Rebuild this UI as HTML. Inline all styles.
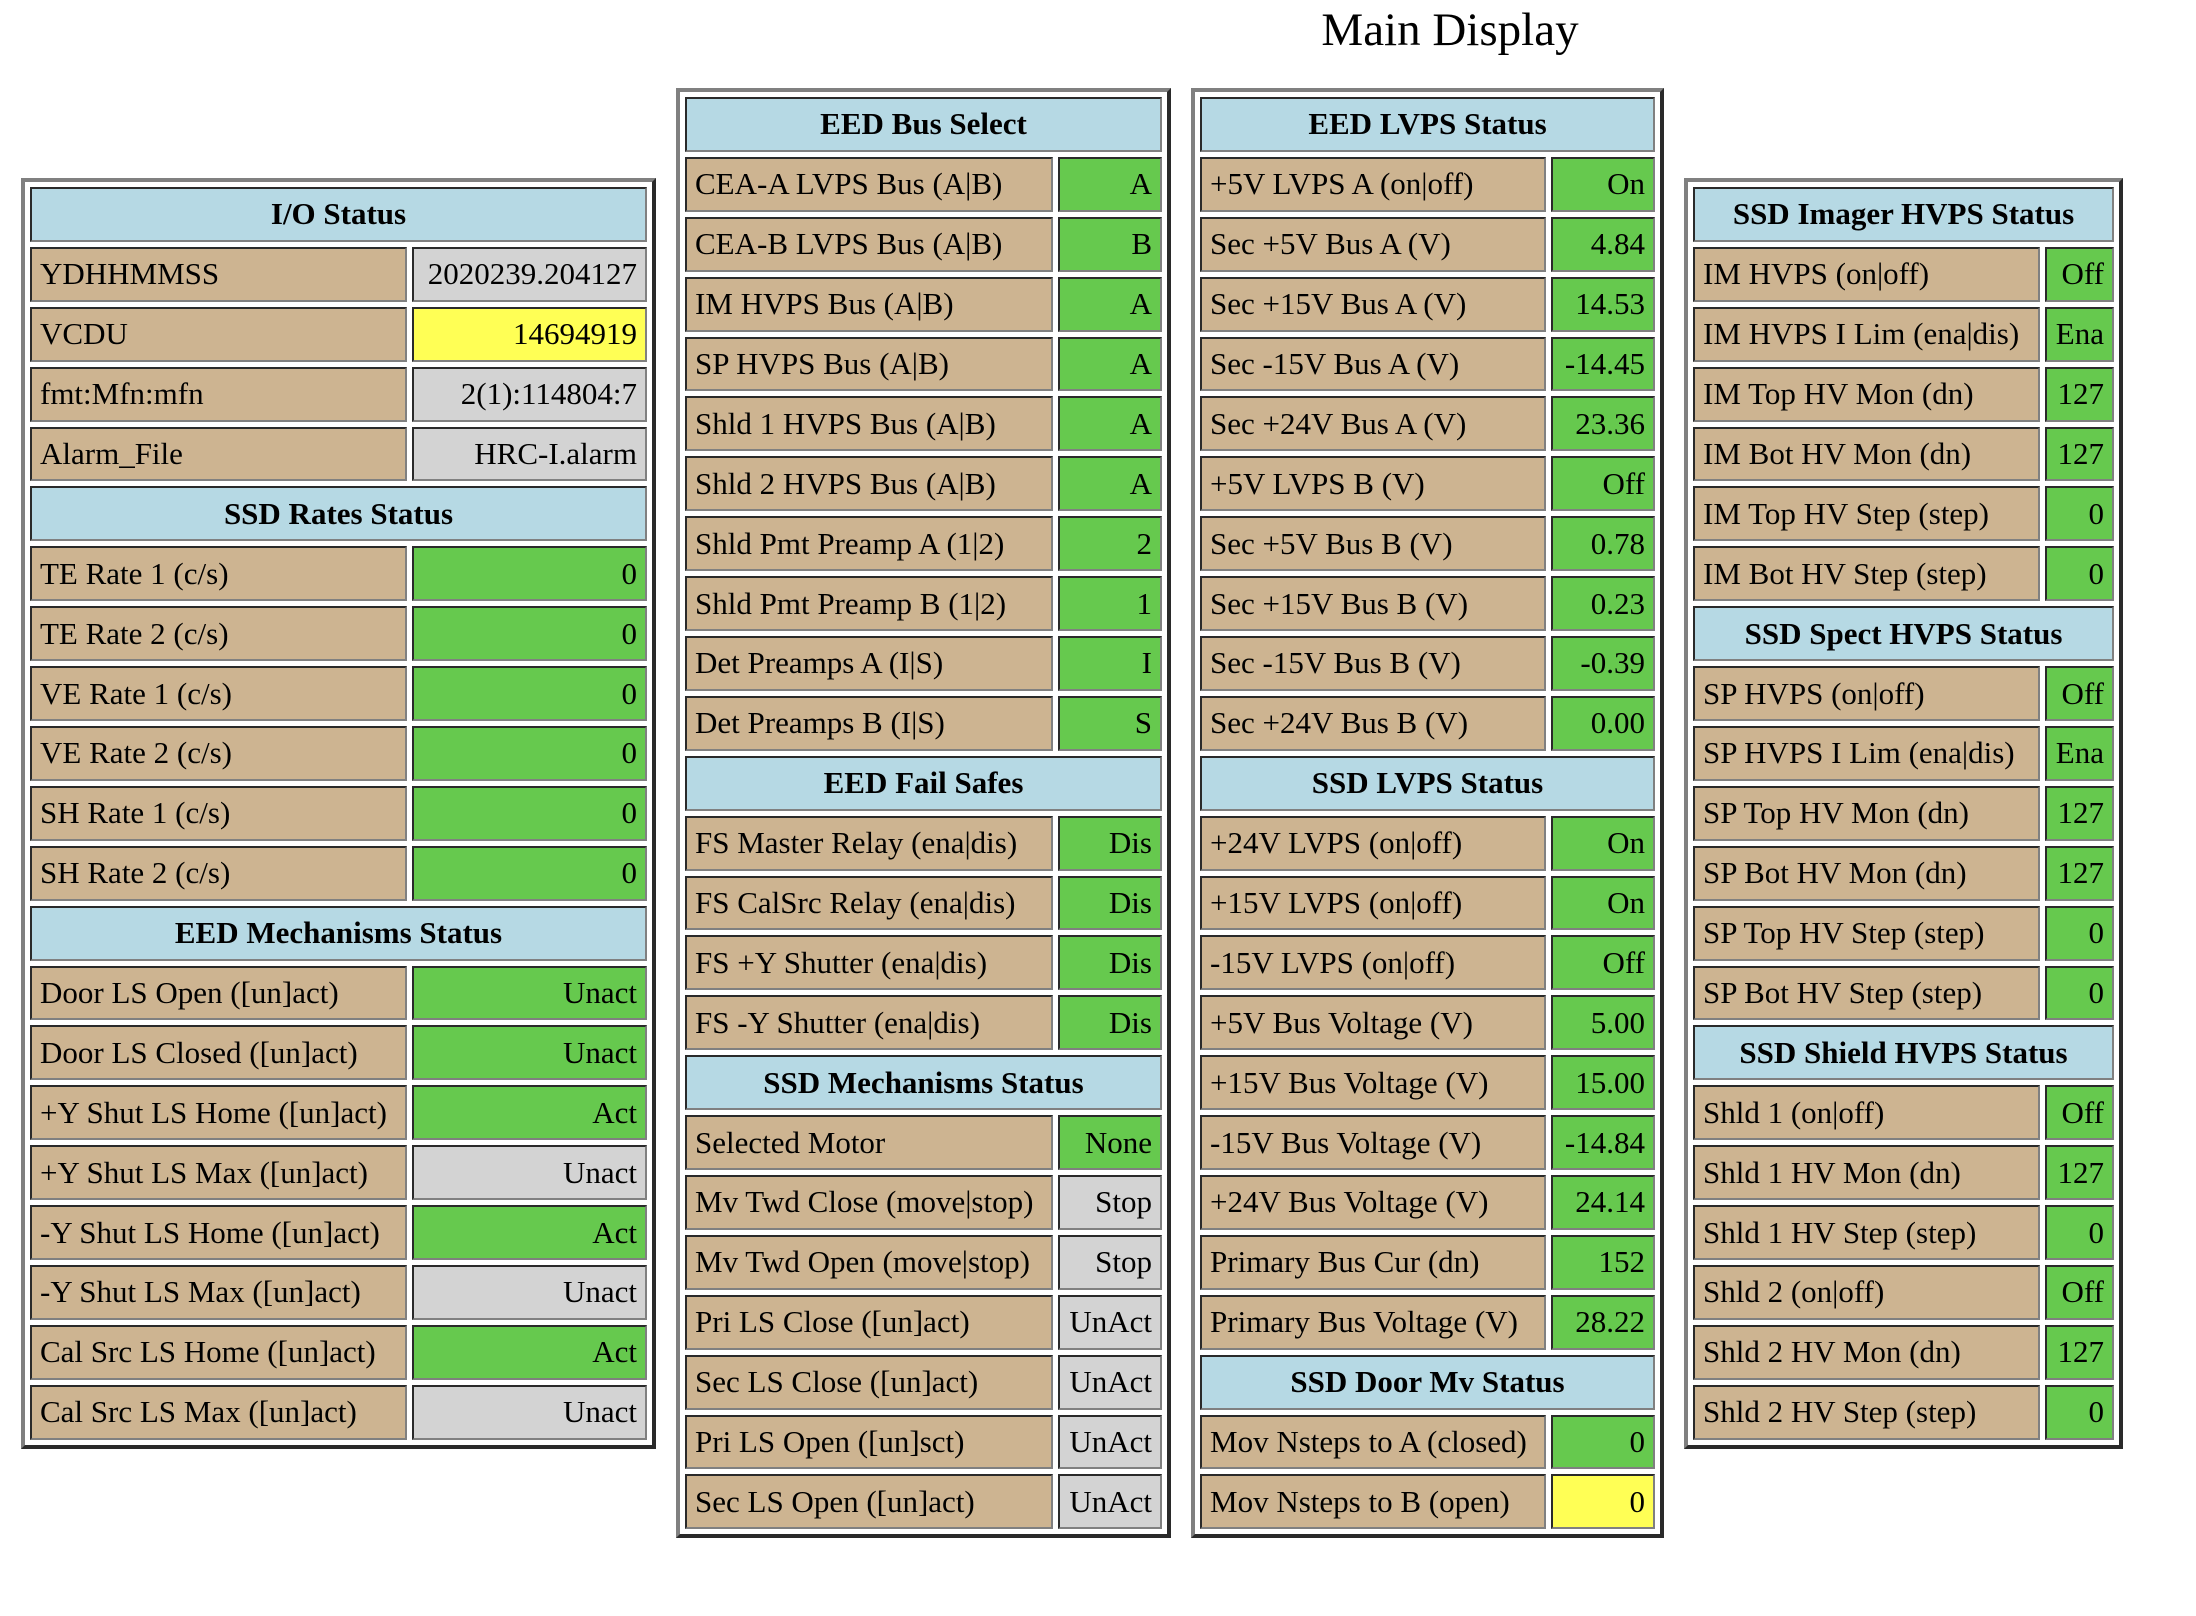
<!DOCTYPE html>
<html><head><meta charset="utf-8">
<style>
body{margin:0;width:2196px;height:1616px;background:#fff;position:relative;font-family:"Liberation Serif",serif;overflow:hidden}
#title{position:absolute;left:1250px;width:400px;top:0px;text-align:center;font-size:47px;line-height:60px}
table{position:absolute;border-collapse:separate;border-spacing:5px;table-layout:fixed;
 border:4px solid;border-color:#808080 #2a2a2a #2a2a2a #808080;}
td{box-sizing:border-box;height:54.9px;border:2px solid;border-color:#2a2a2a #808080 #808080 #2a2a2a;
 font-size:31px;padding:0 8px;white-space:nowrap;overflow:hidden;line-height:50px}
td.h{background:#b6d9e4;font-weight:bold;text-align:center}
td.l{background:#cdb491}
td.v{text-align:right}
.g{background:#66c94e}.y{background:#ffff55}.s{background:#d3d3d3}
</style></head><body>
<div id="title">Main Display</div>
<script>
const panel1=[["H","I/O Status"],["YDHHMMSS","2020239.204127","s"],["VCDU","14694919","y"],["fmt:Mfn:mfn","2(1):114804:7","s"],["Alarm_File","HRC-I.alarm","s"],
["H","SSD Rates Status"],["TE Rate 1 (c/s)","0","g"],["TE Rate 2 (c/s)","0","g"],["VE Rate 1 (c/s)","0","g"],["VE Rate 2 (c/s)","0","g"],["SH Rate 1 (c/s)","0","g"],["SH Rate 2 (c/s)","0","g"],
["H","EED Mechanisms Status"],["Door LS Open ([un]act)","Unact","g"],["Door LS Closed ([un]act)","Unact","g"],["+Y Shut LS Home ([un]act)","Act","g"],["+Y Shut LS Max ([un]act)","Unact","s"],["-Y Shut LS Home ([un]act)","Act","g"],["-Y Shut LS Max ([un]act)","Unact","s"],["Cal Src LS Home ([un]act)","Act","g"],["Cal Src LS Max ([un]act)","Unact","s"]];
const panel2=[["H","EED Bus Select"],["CEA-A LVPS Bus (A|B)","A","g"],["CEA-B LVPS Bus (A|B)","B","g"],["IM HVPS Bus (A|B)","A","g"],["SP HVPS Bus (A|B)","A","g"],["Shld 1 HVPS Bus (A|B)","A","g"],["Shld 2 HVPS Bus (A|B)","A","g"],["Shld Pmt Preamp A (1|2)","2","g"],["Shld Pmt Preamp B (1|2)","1","g"],["Det Preamps A (I|S)","I","g"],["Det Preamps B (I|S)","S","g"],
["H","EED Fail Safes"],["FS Master Relay (ena|dis)","Dis","g"],["FS CalSrc Relay (ena|dis)","Dis","g"],["FS +Y Shutter (ena|dis)","Dis","g"],["FS -Y Shutter (ena|dis)","Dis","g"],
["H","SSD Mechanisms Status"],["Selected Motor","None","g"],["Mv Twd Close (move|stop)","Stop","s"],["Mv Twd Open (move|stop)","Stop","s"],["Pri LS Close ([un]act)","UnAct","s"],["Sec LS Close ([un]act)","UnAct","s"],["Pri LS Open ([un]sct)","UnAct","s"],["Sec LS Open ([un]act)","UnAct","s"]];
const panel3=[["H","EED LVPS Status"],["+5V LVPS A (on|off)","On","g"],["Sec +5V Bus A (V)","4.84","g"],["Sec +15V Bus A (V)","14.53","g"],["Sec -15V Bus A (V)","-14.45","g"],["Sec +24V Bus A (V)","23.36","g"],["+5V LVPS B (V)","Off","g"],["Sec +5V Bus B (V)","0.78","g"],["Sec +15V Bus B (V)","0.23","g"],["Sec -15V Bus B (V)","-0.39","g"],["Sec +24V Bus B (V)","0.00","g"],
["H","SSD LVPS Status"],["+24V LVPS (on|off)","On","g"],["+15V LVPS (on|off)","On","g"],["-15V LVPS (on|off)","Off","g"],["+5V Bus Voltage (V)","5.00","g"],["+15V Bus Voltage (V)","15.00","g"],["-15V Bus Voltage (V)","-14.84","g"],["+24V Bus Voltage (V)","24.14","g"],["Primary Bus Cur (dn)","152","g"],["Primary Bus Voltage (V)","28.22","g"],
["H","SSD Door Mv Status"],["Mov Nsteps to A (closed)","0","g"],["Mov Nsteps to B (open)","0","y"]];
const panel4=[["H","SSD Imager HVPS Status"],["IM HVPS (on|off)","Off","g"],["IM HVPS I Lim (ena|dis)","Ena","g"],["IM Top HV Mon (dn)","127","g"],["IM Bot HV Mon (dn)","127","g"],["IM Top HV Step (step)","0","g"],["IM Bot HV Step (step)","0","g"],
["H","SSD Spect HVPS Status"],["SP HVPS (on|off)","Off","g"],["SP HVPS I Lim (ena|dis)","Ena","g"],["SP Top HV Mon (dn)","127","g"],["SP Bot HV Mon (dn)","127","g"],["SP Top HV Step (step)","0","g"],["SP Bot HV Step (step)","0","g"],
["H","SSD Shield HVPS Status"],["Shld 1 (on|off)","Off","g"],["Shld 1 HV Mon (dn)","127","g"],["Shld 1 HV Step (step)","0","g"],["Shld 2 (on|off)","Off","g"],["Shld 2 HV Mon (dn)","127","g"],["Shld 2 HV Step (step)","0","g"]];
const panels=[[panel1,21,178,377,235,"io-panel"],[panel2,676,88,368,104,"eed-bus-panel"],[panel3,1191,88,346,104,"lvps-panel"],[panel4,1684,178,347,69,"hvps-panel"]];
function slug(s){return s.toLowerCase().replace(/[^a-z0-9]+/g,'-').replace(/^-|-$/g,'');}
panels.forEach(p=>{
  const [rows,x,y,w1,w2,nm]=p;
  const t=document.createElement('table');
  
  
  t.style.left=x+'px';t.style.top=y+'px';
  const cg=document.createElement('colgroup');
  [w1,w2].forEach(w=>{const c=document.createElement('col');c.style.width=w+'px';cg.appendChild(c);});
  t.appendChild(cg);
  rows.forEach(r=>{
    const tr=document.createElement('tr');
    if(r[0]==="H"){
      const td=document.createElement('td');td.colSpan=2;td.className='h';td.textContent=r[1];
      
      
      tr.appendChild(td);
    } else {
      const a=document.createElement('td');a.className='l';a.textContent=r[0];
      
      
      const b=document.createElement('td');b.className='v '+r[2];b.textContent=r[1];
      
      
      tr.appendChild(a);tr.appendChild(b);
    }
    t.appendChild(tr);
  });
  document.body.appendChild(t);
});
</script>
</body></html>
